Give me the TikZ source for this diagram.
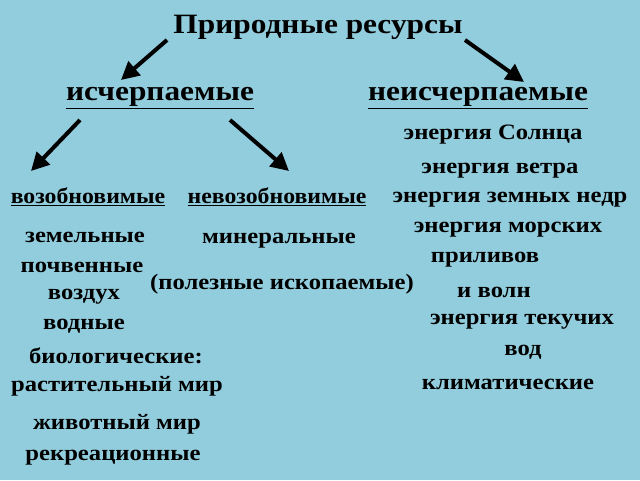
\documentclass[tikz,border=0pt]{standalone}
\usepackage{fontspec}
\setmainfont{Liberation Serif}
\usetikzlibrary{arrows.meta}
\definecolor{bg}{HTML}{92CDDD}
\begin{document}
\begin{tikzpicture}[x=1pt,y=-1pt,
  t/.style={font=\bfseries\fontsize{22}{24}\selectfont,inner sep=0pt,xscale=1.12},
  big/.style={font=\bfseries\fontsize{28}{30}\selectfont,inner sep=0pt,xscale=1.12},
  mid/.style={font=\bfseries\fontsize{22}{24}\selectfont,inner sep=0pt,xscale=1.08},
  arr/.style={line width=4pt,-{Triangle[length=18pt,width=18pt]}}]
\fill[bg] (0,0) rectangle (640,480);
\useasboundingbox (0,0) rectangle (640,480);
\node[big] (title) at (318,27) {Природные ресурсы};
\node[big] (isch) at (160,98) {\underline{исчерпаемые}};
\node[big] (neisch) at (478,98) {\underline{неисчерпаемые}};
\node[mid] (voz) at (88,197) {\underline{возобновимые}};
\node[mid] (nevoz) at (277,197) {\underline{невозобновимые}};
\coordinate (a1) at (167,40); \coordinate (a1e) at (121,80);
\coordinate (a2) at (465,40); \coordinate (a2e) at (524,82);
\coordinate (b1) at (80,120); \coordinate (b1e) at (31,171);
\coordinate (b2) at (230,120); \coordinate (b2e) at (289,171);
\draw[arr] (a1) -- (a1e);
\draw[arr] (a2) -- (a2e);
\draw[arr] (b1) -- (b1e);
\draw[arr] (b2) -- (b2e);
\node[t] (r1) at (493,135) {энергия Солнца};
\node[t] (r2) at (500,171) {энергия ветра};
\node[t] (r3) at (510,200) {энергия земных недр};
\node[t] (r4) at (508,230) {энергия морских};
\node[t] (r5) at (485,260) {приливов};
\node[t] (r6) at (494,292) {и волн};
\node[t] (r7) at (522,322) {энергия текучих};
\node[t] (r8) at (523,352) {вод};
\node[t] (r9) at (508,384) {климатические};
\node[t] (l1) at (85,237) {земельные};
\node[t] (l2) at (82,267) {почвенные};
\node[t] (l3) at (84,297) {воздух};
\node[t] (l4) at (84,326) {водные};
\node[t] (l5) at (116,356) {биологические:};
\node[t] (l6) at (117,386) {растительный мир};
\node[t] (l7) at (117,424) {животный мир};
\node[t] (l8) at (113,458) {рекреационные};
\node[t] (m1) at (279,241) {минеральные};
\node[t] (m2) at (282,284) {(полезные ископаемые)};
\end{tikzpicture}
\end{document}
